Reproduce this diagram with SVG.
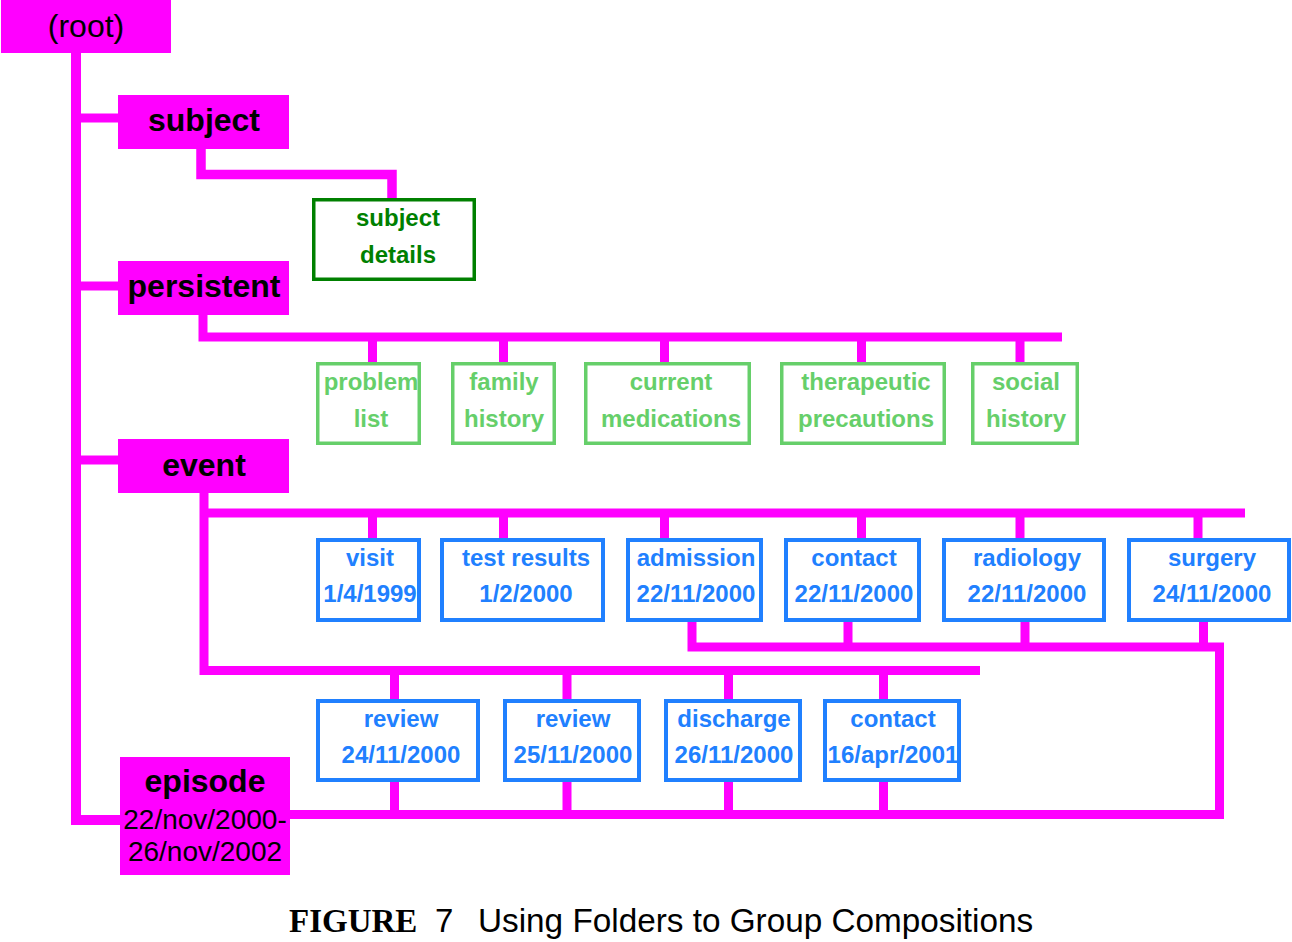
<svg xmlns="http://www.w3.org/2000/svg" width="1292" height="942" viewBox="0 0 1292 942">
<style>
.mag{fill:#ff00ff}
.w{fill:none;stroke:#ff00ff;stroke-width:9;stroke-linejoin:miter;stroke-linecap:butt}
.bx{fill:#ffffff;stroke-width:3.5}
.b{stroke:#2080ff;stroke-width:4}
.lg{stroke:#66cf6a}
.dg{stroke:#008000}
text{font-family:"Liberation Sans",Arial,sans-serif;text-anchor:middle}
.tb{font-size:24px;font-weight:bold}
.tbl{fill:#2080ff}
.tlg{fill:#66cf6a}
.tdg{fill:#008000}
.tn{font-size:32px;font-weight:bold;fill:#000}
.tr{font-size:32px;fill:#000}
.te{font-size:28px;fill:#000}
</style>
<rect width="1292" height="942" fill="#ffffff"/>
<g id="connectors">
<path class="w" d="M76,53 V820 H120" style="stroke-width:10"/>
<path class="w" d="M76,118 H118"/>
<path class="w" d="M76,286 H118"/>
<path class="w" d="M76,460 H118"/>
<path class="w" d="M201,149 V174.5 H392 V198" style="stroke-width:9.5"/>
<path class="w" d="M203,315 V337 H1062"/>
<path class="w" d="M372.5,341 V362 M503.5,341 V362 M664.5,341 V362 M861.5,341 V362 M1020,341 V362"/>
<path class="w" d="M204,492 V670.5 H980 M204,513 H1245"/>
<path class="w" d="M372.5,517 V538 M503.5,517 V538 M664.5,517 V538 M861.5,517 V538 M1020,517 V538 M1198,517 V543"/>
<path class="w" d="M394.5,675 V699 M567,675 V699 M728.5,675 V699 M883.5,675 V699"/>
<path class="w" d="M692,622 V647 H1219.5 V814.5 H290"/>
<path class="w" d="M848,622 V647 M1025,622 V647 M1203.5,622 V647"/>
<path class="w" d="M394.5,782 V814 M567,782 V814 M728.5,782 V814 M883.5,782 V814"/>
</g>
<g id="root"><rect class="mag" x="1" y="0" width="170" height="53"/><text class="tr" x="86" y="37">(root)</text></g>
<g id="subject"><rect class="mag" x="118" y="95" width="171" height="54"/><text class="tn" x="204" y="131">subject</text></g>
<g id="persistent"><rect class="mag" x="118" y="261" width="171" height="54"/><text class="tn" x="204" y="297">persistent</text></g>
<g id="event"><rect class="mag" x="118" y="439" width="171" height="54"/><text class="tn" x="204" y="476">event</text></g>
<g id="episode"><rect class="mag" x="120" y="757" width="170" height="118"/><text class="tn" x="205" y="792">episode</text><text class="te" x="205" y="829">22/nov/2000-</text><text class="te" x="205" y="861">26/nov/2002</text></g>
<g id="subject-details"><rect class="bx dg" x="313.75" y="199.75" width="160.5" height="79.5"/><text class="tb tdg" x="398" y="226">subject</text><text class="tb tdg" x="398" y="263">details</text></g>
<g id="problem-list"><rect class="bx lg" x="317.75" y="363.75" width="101.5" height="79.5"/><text class="tb tlg" x="371" y="390">problem</text><text class="tb tlg" x="371" y="427">list</text></g>
<g id="family-history"><rect class="bx lg" x="452.75" y="363.75" width="101.5" height="79.5"/><text class="tb tlg" x="504" y="390">family</text><text class="tb tlg" x="504" y="427">history</text></g>
<g id="current-medications"><rect class="bx lg" x="585.75" y="363.75" width="163.5" height="79.5"/><text class="tb tlg" x="671" y="390">current</text><text class="tb tlg" x="671" y="427">medications</text></g>
<g id="therapeutic-precautions"><rect class="bx lg" x="781.75" y="363.75" width="162.5" height="79.5"/><text class="tb tlg" x="866" y="390">therapeutic</text><text class="tb tlg" x="866" y="427">precautions</text></g>
<g id="social-history"><rect class="bx lg" x="972.75" y="363.75" width="104.5" height="79.5"/><text class="tb tlg" x="1026" y="390">social</text><text class="tb tlg" x="1026" y="427">history</text></g>
<g id="visit"><rect class="bx b" x="318" y="540" width="101" height="80"/><text class="tb tbl" x="370" y="566">visit</text><text class="tb tbl" x="370" y="602">1/4/1999</text></g>
<g id="test-results"><rect class="bx b" x="442" y="540" width="161" height="80"/><text class="tb tbl" x="526" y="566">test results</text><text class="tb tbl" x="526" y="602">1/2/2000</text></g>
<g id="admission"><rect class="bx b" x="628" y="540" width="133" height="80"/><text class="tb tbl" x="696" y="566">admission</text><text class="tb tbl" x="696" y="602">22/11/2000</text></g>
<g id="contact-1"><rect class="bx b" x="786" y="540" width="133" height="80"/><text class="tb tbl" x="854" y="566">contact</text><text class="tb tbl" x="854" y="602">22/11/2000</text></g>
<g id="radiology"><rect class="bx b" x="944" y="540" width="160" height="80"/><text class="tb tbl" x="1027" y="566">radiology</text><text class="tb tbl" x="1027" y="602">22/11/2000</text></g>
<g id="surgery"><rect class="bx b" x="1129" y="540" width="160" height="80"/><text class="tb tbl" x="1212" y="566">surgery</text><text class="tb tbl" x="1212" y="602">24/11/2000</text></g>
<g id="review-1"><rect class="bx b" x="318" y="701" width="160" height="79"/><text class="tb tbl" x="401" y="727">review</text><text class="tb tbl" x="401" y="763">24/11/2000</text></g>
<g id="review-2"><rect class="bx b" x="505" y="701" width="134" height="79"/><text class="tb tbl" x="573" y="727">review</text><text class="tb tbl" x="573" y="763">25/11/2000</text></g>
<g id="discharge"><rect class="bx b" x="666" y="701" width="134" height="79"/><text class="tb tbl" x="734" y="727">discharge</text><text class="tb tbl" x="734" y="763">26/11/2000</text></g>
<g id="contact-2"><rect class="bx b" x="825" y="701" width="134" height="79"/><text class="tb tbl" x="893" y="727">contact</text><text class="tb tbl" x="893" y="763">16/apr/2001</text></g>
<g id="caption">
<text x="289" y="932" style="font-family:'Liberation Serif','Times New Roman',serif;font-weight:bold;font-size:33px;text-anchor:start">FIGURE</text>
<text x="435" y="932" style="font-size:33px;text-anchor:start;fill:#000">7</text>
<text x="478" y="932" style="font-size:33.3px;text-anchor:start;fill:#000">Using Folders to Group Compositions</text>
</g>
</svg>
